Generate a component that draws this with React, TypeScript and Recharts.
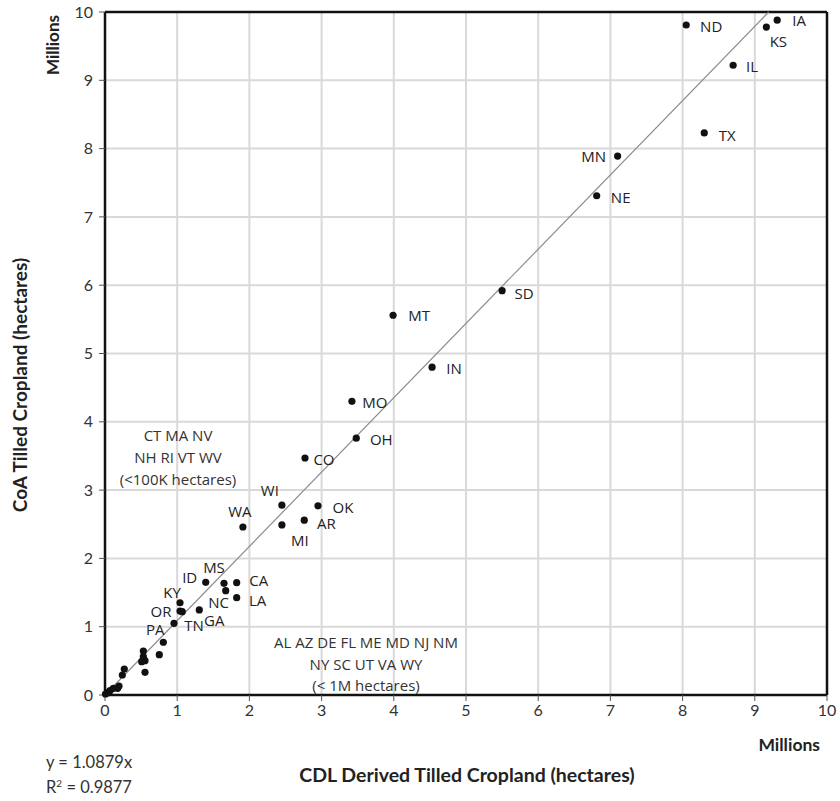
import { ScatterChart, Scatter, XAxis, YAxis, CartesianGrid, ReferenceLine } from "recharts";

// CDL (x) vs CoA (y) tilled cropland, millions of hectares
const labeledStates = [
  { state: "IA", x: 9.31, y: 9.88 },
  { state: "KS", x: 9.16, y: 9.78 },
  { state: "ND", x: 8.05, y: 9.81 },
  { state: "IL", x: 8.70, y: 9.22 },
  { state: "TX", x: 8.30, y: 8.23 },
  { state: "MN", x: 7.10, y: 7.89 },
  { state: "NE", x: 6.81, y: 7.31 },
  { state: "SD", x: 5.50, y: 5.92 },
  { state: "MT", x: 3.99, y: 5.56 },
  { state: "IN", x: 4.53, y: 4.80 },
  { state: "MO", x: 3.42, y: 4.30 },
  { state: "OH", x: 3.48, y: 3.76 },
  { state: "CO", x: 2.77, y: 3.47 },
  { state: "WI", x: 2.45, y: 2.78 },
  { state: "OK", x: 2.95, y: 2.77 },
  { state: "AR", x: 2.76, y: 2.56 },
  { state: "MI", x: 2.45, y: 2.49 },
  { state: "WA", x: 1.91, y: 2.46 },
  { state: "ID", x: 1.395, y: 1.65 },
  { state: "MS", x: 1.648, y: 1.635 },
  { state: "NC", x: 1.672, y: 1.527 },
  { state: "CA", x: 1.824, y: 1.644 },
  { state: "LA", x: 1.824, y: 1.425 },
  { state: "KY", x: 1.039, y: 1.351 },
  { state: "OR", x: 1.039, y: 1.23 },
  { state: "GA", x: 1.306, y: 1.245 },
  { state: "TN", x: 0.956, y: 1.05 },
  { state: "PA", x: 0.808, y: 0.772 },
];

const smallStates = [
  { x: 1.07, y: 1.22 },
  { x: 0.752, y: 0.59 },
  { x: 0.531, y: 0.644 },
  { x: 0.531, y: 0.561 },
  { x: 0.508, y: 0.488 },
  { x: 0.554, y: 0.502 },
  { x: 0.554, y: 0.332 },
  { x: 0.267, y: 0.381 },
  { x: 0.24, y: 0.293 },
  { x: 0.194, y: 0.132 },
  { x: 0.175, y: 0.098 },
  { x: 0.115, y: 0.098 },
  { x: 0.069, y: 0.063 },
  { x: 0.037, y: 0.034 },
  { x: 0.007, y: 0.015 },
];

const ticks = [0, 1, 2, 3, 4, 5, 6, 7, 8, 9, 10];
const slope = 1.0879;
const rSquared = 0.9877;

// label offsets from dot, px
const labelOffset: Record<string, [number, number]> = {
  IA: [22, 0], KS: [12, 14], ND: [25, 1], IL: [19, 1], TX: [23, 2], MN: [-24, 0],
  NE: [24, 1], SD: [22, 2], MT: [26, 0], IN: [22, 1], MO: [23, 1], OH: [25, 1],
  CO: [19, 1], WI: [-12, -15], OK: [25, 1], AR: [22, 3], MI: [18, 15], WA: [-3, -16],
  ID: [-16, -5], MS: [-10, -16], NC: [-7, 11], CA: [22, -3], LA: [21, 2], KY: [-8, -11],
  OR: [-19, 0], GA: [15, 10], TN: [20, 2], PA: [-8, -13],
};

const LABEL_FONT = "'Open Sans', sans-serif";
const AXIS_FONT = "Lato, sans-serif";

const StateDot = (props: any) => {
  const { cx, cy, payload } = props;
  const off = payload.state ? labelOffset[payload.state] : null;
  return (
    <g>
      <circle cx={cx} cy={cy} r={3.6} fill="#111" />
      {off && (
        <text x={cx + off[0]} y={cy + off[1]} textAnchor="middle" dominantBaseline="central"
          fontFamily={LABEL_FONT} fontSize={15} fill="#222">
          {payload.state}
        </text>
      )}
    </g>
  );
};

const Plain = (props: any) => <circle cx={props.cx} cy={props.cy} r={3.6} fill="#111" />;

export default function App() {
  const tickStyle = { fontSize: 16, fill: "#333", fontFamily: AXIS_FONT };
  return (
    <div style={{ position: "absolute", left: 0, top: 0, width: 840, height: 801, background: "#fff" }}>
      <ScatterChart width={840} height={801} margin={{ top: 12, right: 13, left: 0, bottom: 0 }}>
        <CartesianGrid stroke="#d9d9d9" strokeWidth={2} />
        <XAxis type="number" dataKey="x" domain={[0, 10]} ticks={ticks} height={106}
          axisLine={{ stroke: "#111", strokeWidth: 2.5 }} tickLine={{ stroke: "#555" }} tickSize={6}
          tickMargin={4} tick={tickStyle} />
        <YAxis type="number" dataKey="y" domain={[0, 10]} ticks={ticks} width={105}
          axisLine={{ stroke: "#111", strokeWidth: 2.5 }} tickLine={{ stroke: "#555" }} tickSize={6}
          tickMargin={6} tick={tickStyle} />
        <ReferenceLine x={10} stroke="#111" strokeWidth={2.5} />
        <ReferenceLine y={10} stroke="#111" strokeWidth={2.5} />
        <ReferenceLine segment={[{ x: 0, y: 0 }, { x: 10 / slope, y: 10 }]} stroke="#8c8c8c" strokeWidth={1.2} />
        <Scatter data={smallStates} shape={Plain} isAnimationActive={false} />
        <Scatter data={labeledStates} shape={StateDot} isAnimationActive={false} />
      </ScatterChart>
      <svg width={840} height={801} style={{ position: "absolute", left: 0, top: 0, pointerEvents: "none" }}>
        <g fontFamily={LABEL_FONT} fontSize={15} fill="#333" textAnchor="middle">
          <text x={178} y={441}>CT  MA NV</text>
          <text x={178} y={463}>NH RI VT WV</text>
          <text x={178} y={485}>(&lt;100K hectares)</text>
          <text x={366} y={648}>AL AZ DE FL ME MD NJ NM</text>
          <text x={366} y={670}>NY SC UT VA WY</text>
          <text x={366} y={691}>(&lt; 1M hectares)</text>
        </g>
        <g fontFamily={AXIS_FONT} fontWeight={700} fill="#222">
          <text x={467} y={782} textAnchor="middle" fontSize={19.5}>CDL Derived Tilled Cropland (hectares)</text>
          <text x={0} y={0} textAnchor="middle" fontSize={19} transform="translate(27,385) rotate(-90)">
            CoA Tilled Cropland (hectares)
          </text>
          <text x={0} y={0} textAnchor="middle" fontSize={17} transform="translate(59,45) rotate(-90)">Millions</text>
          <text x={820} y={751} textAnchor="end" fontSize={17.5}>Millions</text>
        </g>
        <g fontFamily={AXIS_FONT} fontSize={16.5} fill="#333">
          <text x={46} y={768}>y = {slope}x</text>
          <text x={46} y={793}>R<tspan dy={-6} fontSize={10}>2</tspan><tspan dy={6}> = {rSquared}</tspan></text>
        </g>
      </svg>
    </div>
  );
}
